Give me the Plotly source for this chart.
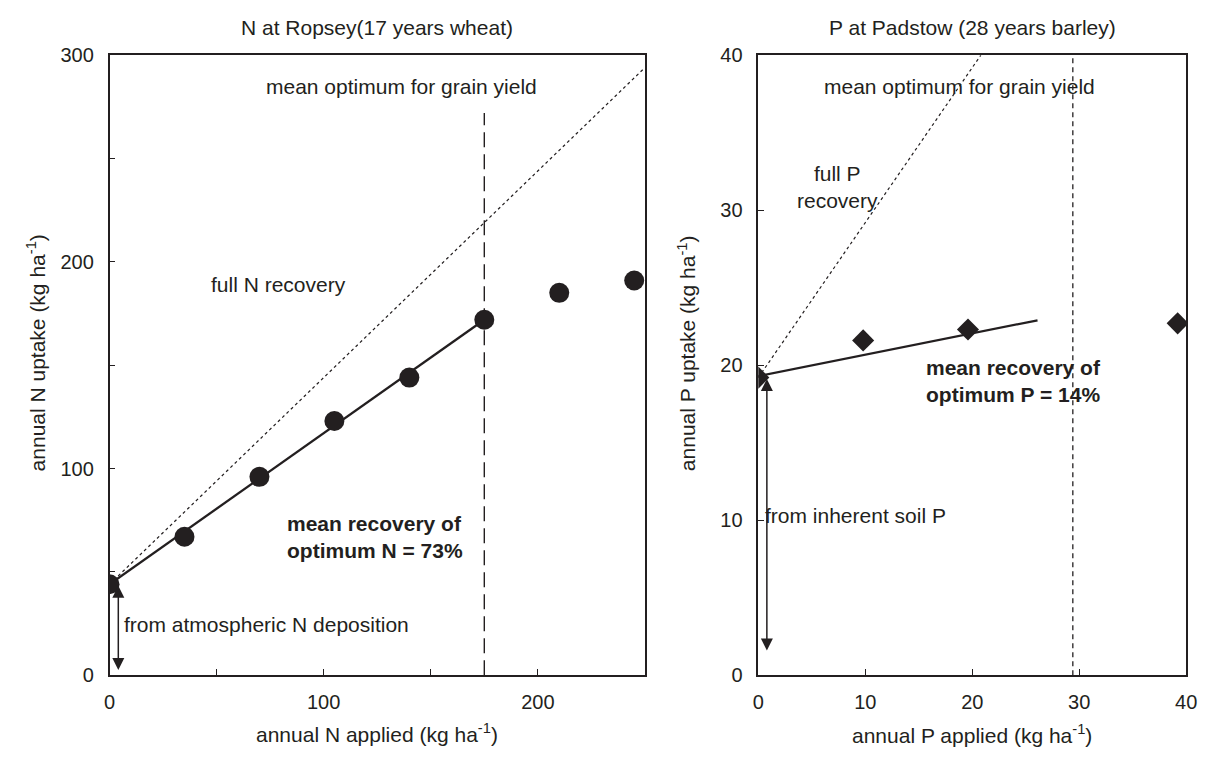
import plotly.graph_objects as go

# ---------------- data ----------------
# Left panel: N at Ropsey
N_applied = [0, 35, 70, 105, 140, 175, 210, 245]
N_uptake = [44, 67, 96, 123, 144, 172, 185, 191]
N_fit_x = [0, 175]
N_fit_y = [44, 172]
N_full_x = [0, 250]
N_full_y = [44, 294]
N_opt_x = [175, 175]
N_opt_y = [0, 272]

# Right panel: P at Padstow
P_applied = [0, 9.8, 19.6, 39.2]
P_uptake = [19.2, 21.6, 22.3, 22.7]
P_fit_x = [0, 26.1]
P_fit_y = [19.3, 22.9]
P_full_x = [0, 20.8]
P_full_y = [19.2, 40]
P_opt_x = [29.4, 29.4]
P_opt_y = [0, 40]

N_xticks = [0, 100, 200]
N_yticks = [0, 100, 200, 300]
N_minor_dtick = 50
P_ticks = [0, 10, 20, 30, 40]

# ---------------- styling ----------------
W, H = 1213, 761
INK = "#231f20"
FONT = "Liberation Sans, Arial, sans-serif"

def px_x(p):
    return p / W

def px_y(p):
    return 1 - p / H

ydom = [px_y(684), px_y(45.5)]

fig = go.Figure()

# Left panel traces
fig.add_trace(go.Scatter(x=N_full_x, y=N_full_y, mode="lines",
                         line=dict(color=INK, width=1.2, dash="dot"),
                         xaxis="x", yaxis="y", showlegend=False))
fig.add_trace(go.Scatter(x=N_opt_x, y=N_opt_y, mode="lines",
                         line=dict(color=INK, width=1.4, dash="15px,7px"),
                         xaxis="x", yaxis="y", showlegend=False))
fig.add_trace(go.Scatter(x=N_fit_x, y=N_fit_y, mode="lines",
                         line=dict(color=INK, width=2.3),
                         xaxis="x", yaxis="y", showlegend=False))
fig.add_trace(go.Scatter(x=N_applied, y=N_uptake, mode="markers",
                         marker=dict(symbol="circle", size=20, color=INK),
                         xaxis="x", yaxis="y", showlegend=False))

# Right panel traces
fig.add_trace(go.Scatter(x=P_full_x, y=P_full_y, mode="lines",
                         line=dict(color=INK, width=1.2, dash="dot"),
                         xaxis="x2", yaxis="y2", showlegend=False))
fig.add_trace(go.Scatter(x=P_opt_x, y=P_opt_y, mode="lines",
                         line=dict(color=INK, width=1.3, dash="5px,4px"),
                         xaxis="x2", yaxis="y2", showlegend=False))
fig.add_trace(go.Scatter(x=P_fit_x, y=P_fit_y, mode="lines",
                         line=dict(color=INK, width=2.3),
                         xaxis="x2", yaxis="y2", showlegend=False))
fig.add_trace(go.Scatter(x=P_applied, y=P_uptake, mode="markers",
                         marker=dict(symbol="diamond", size=17, color=INK),
                         xaxis="x2", yaxis="y2", showlegend=False))

axis_common = dict(showline=True, mirror=True, linecolor=INK, linewidth=1.5,
                   showgrid=False, zeroline=False, ticks="inside", ticklen=6,
                   tickwidth=1.2, tickcolor=INK,
                   tickfont=dict(family=FONT, size=20, color=INK),
                   fixedrange=True)
minor_N = dict(ticks="inside", dtick=N_minor_dtick, ticklen=6, tickwidth=1.2,
               tickcolor=INK, showgrid=False)

fig.update_layout(
    width=W, height=H,
    margin=dict(l=0, r=0, t=0, b=0),
    paper_bgcolor="white", plot_bgcolor="white",
    font=dict(family=FONT, color=INK, size=20),
    xaxis=dict(domain=[px_x(105), px_x(648)], range=[0, 250],
               tickvals=N_xticks, anchor="y", minor=minor_N,
               ticklabelstandoff=8, **axis_common),
    yaxis=dict(domain=ydom, range=[0, 300],
               tickvals=N_yticks, anchor="x", minor=minor_N,
               ticklabelstandoff=10, **axis_common),
    xaxis2=dict(domain=[px_x(763), px_x(1197)], range=[0, 40],
                tickvals=P_ticks, anchor="y2",
                ticklabelstandoff=8, **axis_common),
    yaxis2=dict(domain=ydom, range=[0, 40],
                tickvals=P_ticks, anchor="x2",
                ticklabelstandoff=10, **axis_common),
)

ann = []
def txt(text, x, y, xref, yref, size=21, xanchor="center", align="center", angle=0):
    ann.append(dict(text=text, x=x, y=y, xref=xref, yref=yref, showarrow=False,
                    xanchor=xanchor, yanchor="middle", align=align, textangle=angle,
                    font=dict(family=FONT, size=size, color=INK)))

# titles and axis titles (paper coordinates)
txt("N at Ropsey(17 years wheat)", px_x(376), px_y(17), "paper", "paper")
txt("P at Padstow (28 years barley)", px_x(980), px_y(17), "paper", "paper")
txt("annual N applied (kg ha<sup>-1</sup>)", px_x(376), px_y(744), "paper", "paper")
txt("annual P applied (kg ha<sup>-1</sup>)", px_x(980), px_y(745), "paper", "paper")
txt("annual N uptake (kg ha<sup>-1</sup>)", px_x(30), px_y(352), "paper", "paper", angle=-90)
txt("annual P uptake (kg ha<sup>-1</sup>)", px_x(690), px_y(352), "paper", "paper", angle=-90)

# left panel labels
txt("mean optimum for grain yield", 136.5, 285, "x", "y")
txt("full N recovery", 78.8, 189, "x", "y")
txt("<b>mean recovery of<br>optimum N = 73%</b>", 82, 67, "x", "y",
    xanchor="left", align="left")
txt("from atmospheric N deposition", 6, 24.5, "x", "y", xanchor="left", align="left")

# right panel labels
txt("mean optimum for grain yield", 18.8, 38.0, "x2", "y2")
txt("full P<br>recovery", 7.4, 31.5, "x2", "y2")
txt("<b>mean recovery of<br>optimum P = 14%</b>", 15.45, 19.0, "x2", "y2",
    xanchor="left", align="left")
txt("from inherent soil P", 0.45, 10.3, "x2", "y2", xanchor="left", align="left")

# arrows (double-headed, upper head tucked under the first marker)
ann.append(dict(x=4.1, y=2.5, ax=4.1, ay=44, xref="x", yref="y", axref="x", ayref="y",
                showarrow=True, arrowhead=2, arrowsize=1.6, arrowwidth=1.5,
                arrowside="end+start", startarrowhead=2, startarrowsize=1.6,
                arrowcolor=INK, text=""))
ann.append(dict(x=0.8, y=1.6, ax=0.8, ay=19.2, xref="x2", yref="y2", axref="x2", ayref="y2",
                showarrow=True, arrowhead=2, arrowsize=1.6, arrowwidth=1.5,
                arrowside="end+start", startarrowhead=2, startarrowsize=1.6,
                arrowcolor=INK, text=""))

fig.update_layout(annotations=ann)

fig.write_html("out.html")
